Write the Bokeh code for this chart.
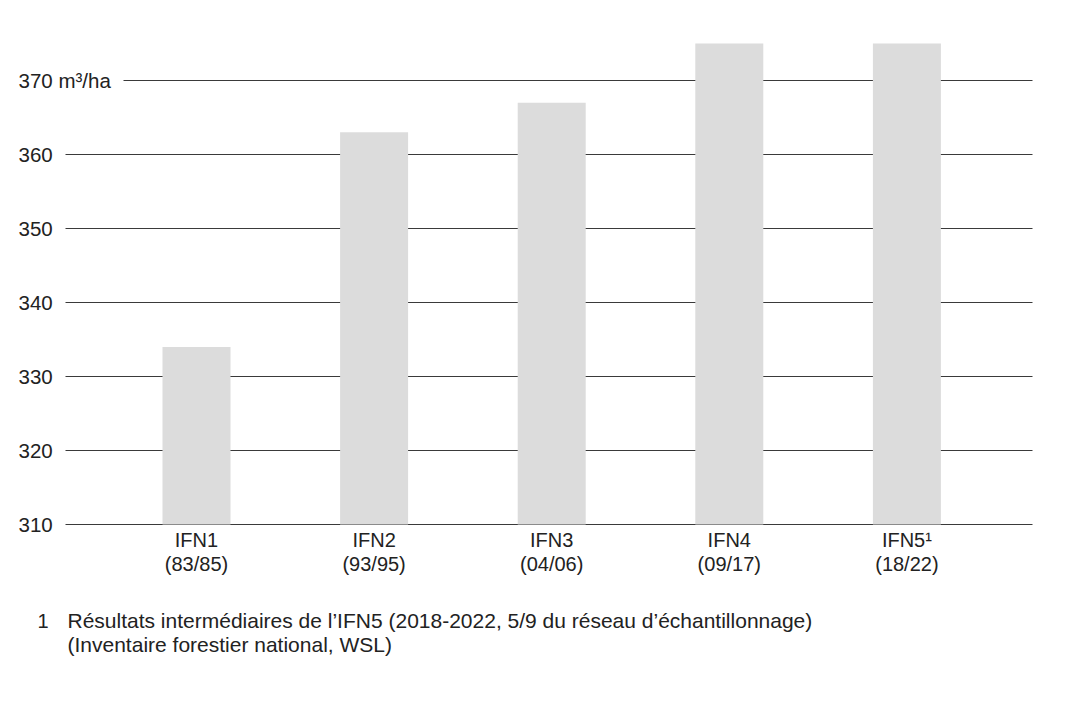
from bokeh.plotting import figure
from bokeh.models import Range1d, ColumnDataSource
from bokeh.core.properties import value
from bokeh.embed import file_html
from bokeh.resources import INLINE

# ---- data ----
categories = ["IFN1\n(83/85)", "IFN2\n(93/95)", "IFN3\n(04/06)", "IFN4\n(09/17)", "IFN5\u00b9\n(18/22)"]
volumes = [334, 363, 367, 375, 375]
y_ticks = [310, 320, 330, 340, 350, 360, 370]
y_tick_labels = ["310", "320", "330", "340", "350", "360", "370 m\u00b3/ha"]
footnote_number = ["1", ""]
footnote_lines = ["R\u00e9sultats interm\u00e9diaires de l\u2019IFN5 (2018-2022, 5/9 du r\u00e9seau d\u2019\u00e9chantillonnage)",
                  "(Inventaire forestier national, WSL)"]

# ---- layout helpers (page pixels -> data units) ----
W, H = 1060, 715
PX_PER_X = 177.6
PX_PER_Y = 7.4
def px2x(px):
    return 1 + (px - 196) / PX_PER_X
def py2y(py):
    return 310 + (524 - py) / PX_PER_Y

FONT = "Liberation Sans"
TXT = "#222222"

p = figure(width=W, height=H, output_backend="svg", toolbar_location=None,
           x_axis_type=None, y_axis_type=None,
           x_range=Range1d(px2x(0), px2x(W)), y_range=Range1d(py2y(H), py2y(0)),
           min_border=0, min_border_left=0, min_border_right=0, min_border_top=0, min_border_bottom=0)
p.outline_line_color = None
p.xgrid.visible = False
p.ygrid.visible = False

# gridlines
gx0 = [px2x(123) if "m" in lab else px2x(65) for lab in y_tick_labels]
gx1 = [px2x(1032)] * len(y_ticks)
p.segment(x0=gx0, y0=y_ticks, x1=gx1, y1=y_ticks, line_color="#3a3a3a", line_width=1)

# tick labels
p.text(x=[px2x(18)] * len(y_ticks), y=y_ticks, text=y_tick_labels,
       text_font=value(FONT), text_font_size="20.5px", text_color=TXT,
       text_align="left", text_baseline="middle")

# bars
xs = list(range(1, len(categories) + 1))
src = ColumnDataSource(dict(x=xs, top=volumes, cat=categories))
p.vbar(x="x", top="top", bottom=310, width=68 / PX_PER_X, source=src,
       fill_color="#dcdcdc", line_color=None)

# category labels
p.text(x="x", y=310, text="cat", source=src, y_offset=4,
       text_font=value(FONT), text_font_size="20px", text_color=TXT,
       text_align="center", text_baseline="top", text_line_height=1.1)

# footnote
fy = [py2y(620), py2y(644)]
p.text(x=[px2x(37)] * 2, y=fy, text=footnote_number,
       text_font=value(FONT), text_font_size="20px", text_color=TXT,
       text_align="left", text_baseline="middle")
p.text(x=[px2x(67)] * 2, y=fy, text=footnote_lines,
       text_font=value(FONT), text_font_size="21px", text_color=TXT,
       text_align="left", text_baseline="middle")

open("out.html", "w").write(file_html(p, INLINE))
